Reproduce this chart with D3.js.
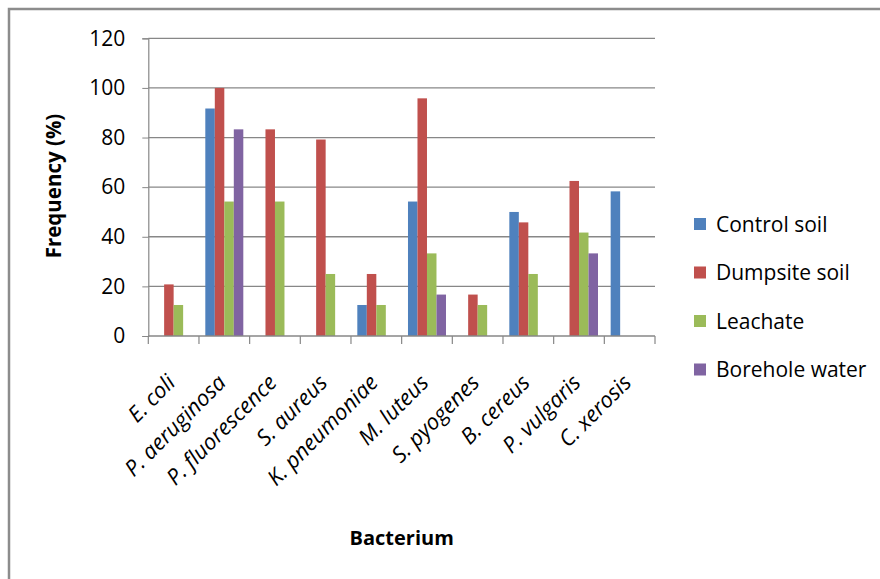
<!DOCTYPE html>
<html>
<head>
<meta charset="utf-8">
<script src="https://cdn.jsdelivr.net/npm/d3@7"></script>
<style>
  html, body { margin: 0; padding: 0; background: #fff; }
  svg { display: block; font-family: "Open Sans", "Liberation Sans", sans-serif; }
</style>
</head>
<body>
<svg id="chart" width="880" height="579"></svg>
<script>
// Bacterial isolates and their frequency of occurrence (%) per sample source
const categories = ["E. coli", "P. aeruginosa", "P. fluorescence", "S. aureus", "K. pneumoniae",
                    "M. luteus", "S. pyogenes", "B. cereus", "P. vulgaris", "C. xerosis"];
const seriesNames = ["Control soil", "Dumpsite soil", "Leachate", "Borehole water"];
const controlSoil   = [0, 91.7, 0, 0, 12.5, 54.2, 0, 50, 0, 58.3];
const dumpsiteSoil  = [20.8, 100, 83.3, 79.2, 25, 95.8, 16.7, 45.8, 62.5, 0];
const leachate      = [12.5, 54.2, 54.2, 25, 12.5, 33.3, 12.5, 25, 41.7, 0];
const boreholeWater = [0, 83.3, 0, 0, 0, 16.7, 0, 0, 33.3, 0];
const yTicks = [0, 20, 40, 60, 80, 100, 120];
const colors = ["#4F81BD", "#C0504D", "#9BBB59", "#8064A2"];

const seriesValues = [controlSoil, dumpsiteSoil, leachate, boreholeWater];
const rows = categories.map((c, i) => ({
  name: c,
  values: seriesNames.map((s, j) => ({ key: s, value: seriesValues[j][i] }))
}));

const svg = d3.select("#chart");
const plot = { left: 148.3, right: 655, top: 38.3, bottom: 336 };
const grey = "#878787";

// outer chart frame
svg.append("path")
  .attr("d", "M9,590 L9,9 L890,9")
  .attr("fill", "none").attr("stroke", "#8c8c8c").attr("stroke-width", 2.5);

const x = d3.scaleBand().domain(categories).range([plot.left, plot.right])
  .paddingInner(0.25).paddingOuter(0.125);
const xSub = d3.scaleBand().domain(seriesNames).range([0, x.bandwidth()]);
const y = d3.scaleLinear().domain([0, 120]).range([plot.bottom, plot.top]);
const color = d3.scaleOrdinal().domain(seriesNames).range(colors);

// horizontal gridlines
svg.append("g").selectAll("line").data(yTicks.filter(t => t > 0)).join("line")
  .attr("x1", plot.left).attr("x2", plot.right)
  .attr("y1", d => y(d)).attr("y2", d => y(d))
  .attr("stroke", grey).attr("stroke-width", 1.3);

// y axis
const yAxis = svg.append("g")
  .attr("transform", `translate(${plot.left},0)`)
  .call(d3.axisLeft(y).tickValues(yTicks).tickSize(6).tickPadding(17));
yAxis.select(".domain").attr("stroke", grey).attr("stroke-width", 1.2);
yAxis.selectAll(".tick line").attr("stroke", grey).attr("stroke-width", 1);
yAxis.selectAll(".tick text")
  .attr("font-family", "Open Sans").attr("font-size", 21).attr("fill", "#000");

// bars
svg.append("g").selectAll("g").data(rows).join("g")
  .attr("transform", d => `translate(${x(d.name)},0)`)
  .selectAll("rect").data(d => d.values.filter(v => v.value > 0)).join("rect")
  .attr("x", d => xSub(d.key))
  .attr("width", xSub.bandwidth())
  .attr("y", d => y(d.value))
  .attr("height", d => y(0) - y(d.value))
  .attr("fill", d => color(d.key));

// x axis baseline with boundary ticks between categories
const step = x.step();
const boundaries = d3.range(categories.length + 1).map(i => plot.left + i * step);
svg.append("line")
  .attr("x1", plot.left).attr("x2", plot.right)
  .attr("y1", plot.bottom).attr("y2", plot.bottom)
  .attr("stroke", grey).attr("stroke-width", 1.3);
svg.append("g").selectAll("line").data(boundaries).join("line")
  .attr("x1", d => d).attr("x2", d => d)
  .attr("y1", plot.bottom).attr("y2", plot.bottom + 8)
  .attr("stroke", grey).attr("stroke-width", 1.2);

// rotated category labels
svg.append("g").selectAll("text").data(categories).join("text")
  .attr("transform", d => `translate(${x(d) + x.bandwidth() / 2 + 3},384) rotate(-45)`)
  .attr("text-anchor", "end")
  .attr("font-family", "Open Sans").attr("font-style", "italic")
  .attr("font-size", 22).attr("fill", "#000")
  .text(d => d);

// axis titles
svg.append("text")
  .attr("transform", "translate(61,186) rotate(-90)")
  .attr("text-anchor", "middle")
  .attr("font-family", "Open Sans").attr("font-weight", "bold")
  .attr("font-size", 20.5).attr("fill", "#000")
  .text("Frequency (%)");
svg.append("text")
  .attr("x", (plot.left + plot.right) / 2).attr("y", 545)
  .attr("text-anchor", "middle")
  .attr("font-family", "Open Sans").attr("font-weight", "bold")
  .attr("font-size", 20).attr("fill", "#000")
  .text("Bacterium");

// legend
const legend = svg.append("g").selectAll("g").data(seriesNames).join("g")
  .attr("transform", (d, i) => `translate(694,${224 + i * 48.5})`);
legend.append("rect")
  .attr("x", 0).attr("y", -6).attr("width", 12).attr("height", 12)
  .attr("fill", d => color(d));
legend.append("text")
  .attr("x", 22).attr("y", 7.5)
  .attr("font-family", "Open Sans").attr("font-size", 21).attr("fill", "#000")
  .text(d => d);
</script>
</body>
</html>
